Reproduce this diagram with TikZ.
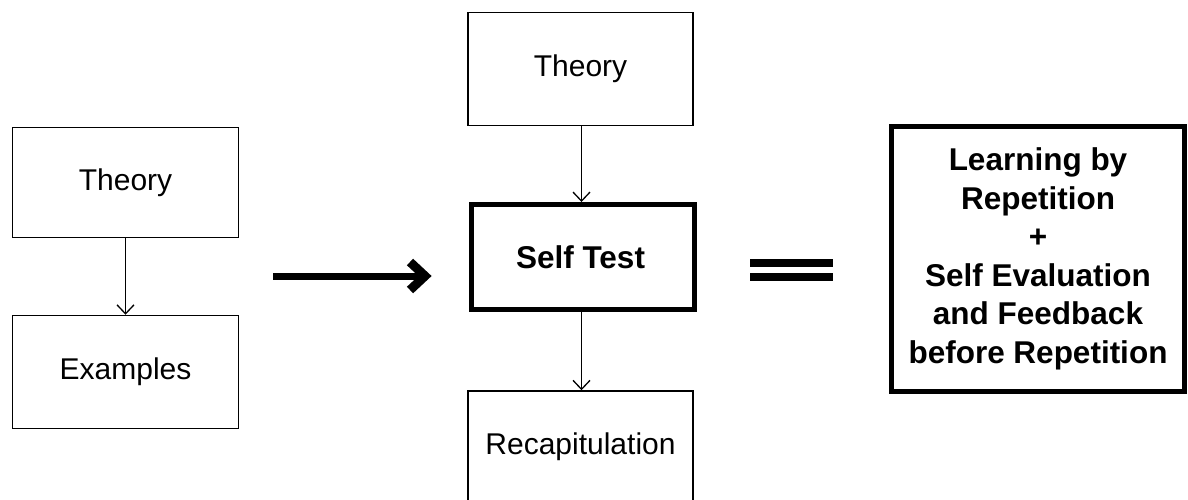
\documentclass[tikz,border=0pt]{standalone}
\usepackage{fontspec}
\setmainfont{Liberation Sans}
\usetikzlibrary{arrows.meta,calc}
\begin{document}
\begin{tikzpicture}[x=1pt,y=-1pt,
  thinbox/.style={draw=black, line width=1.5pt, fill=white, inner sep=0pt,
    font=\fontsize{30}{36}\selectfont},
  thickbox/.style={draw=black, line width=5pt, fill=white, inner sep=0pt,
    font=\fontsize{31.5}{38.5}\selectfont\bfseries},
  flow/.style={line width=1.3pt, -{Straight Barb[length=9pt,width=17pt,line width=1.3pt]}},
  bigarrow/.style={line width=7pt},
  chevron/.style={line width=9pt, miter limit=10},
  eqbar/.style={line width=8pt}]
\useasboundingbox (0,0) rectangle (1188,499);
\fill[white] (0,0) rectangle (1188,499);
\begin{scope}
\clip (0,0) rectangle (1188,499);
% left column
\node[thinbox, minimum width=226pt, minimum height=110pt] (lt) at (125.5,182.5) {Theory};
\node[thinbox, minimum width=226pt, minimum height=113pt] (le) at (125.5,372) {Examples};
% middle column
\node[thinbox, minimum width=225pt, minimum height=113pt] (mt) at (580.5,69) {Theory};
\node[thickbox, minimum width=223pt, minimum height=105pt] (st) at (583,257) {Self Test\hspace*{5pt}};
\node[thinbox, minimum width=225pt, minimum height=112pt] (rc) at (580.5,447) {Recapitulation};
% right box
\node[thickbox, minimum width=293pt, minimum height=265pt, align=center] (rb) at (1038,259)
  {Learning by\\Repetition\\+\\Self Evaluation\\and Feedback\\before Repetition};
\end{scope}
% thin arrows
\draw[flow] (lt.south) -- (le.north);
\draw[flow] (mt.south -| 581.5,0) -- (st.north -| 581.5,0);
\draw[flow] (st.south -| 581.5,0) -- (rc.north -| 581.5,0);
% big arrow
\coordinate (as) at (273,276);
\coordinate (ae) at (425,276);
\draw[bigarrow] (as) -- ($(ae)+(-5,0)$);
\draw[chevron] ($(ae)+(-15,-14)$) -- (ae) -- ($(ae)+(-15,14)$);
% equals sign
\coordinate (e1) at (750,262.5);
\coordinate (e2) at (833,262.5);
\coordinate (e3) at (750,276.5);
\coordinate (e4) at (833,276.5);
\draw[eqbar] (e1) -- (e2);
\draw[eqbar] (e3) -- (e4);
\end{tikzpicture}
\end{document}
